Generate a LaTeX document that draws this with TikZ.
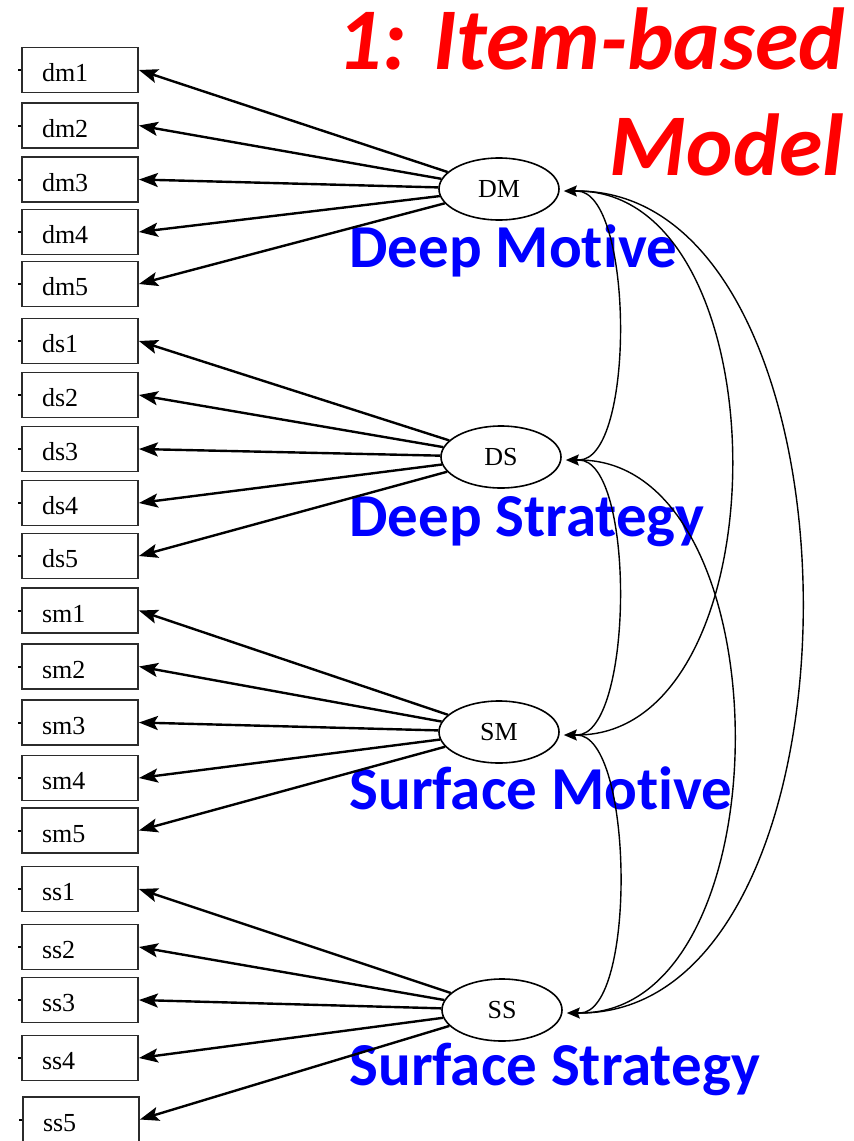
\documentclass[tikz,border=0pt]{standalone}
\usepackage{fontspec}
\setmainfont{Liberation Serif}
\newfontfamily\calibriFont[Ligatures=NoCommon]{Carlito}
\usetikzlibrary{arrows.meta, shapes.geometric}
\definecolor{titleRed}{HTML}{FF0000}
\definecolor{labelBlue}{HTML}{0000FF}
\definecolor{boxEdge}{HTML}{2B2B2B}
\tikzset{
  boxItem/.style={rectangle, draw=boxEdge, line width=0.9pt, text width=38pt,
                  inner xsep=10pt, minimum height=22.5pt, text height=11.5pt,
                  text depth=0pt, align=left, font=\fontsize{13}{15}\selectfont,
                  append after command={(\tikzlastnode.west) edge[line width=1pt] ++(-1.5pt,0)}},
  ellFactor/.style={ellipse, draw=black, line width=0.8pt, minimum width=60pt,
                    minimum height=31pt, inner sep=0pt, font=\fontsize{13}{15}\selectfont},
  arrowLoad/.style={-{Stealth[length=9.5pt, width=7pt, inset=2pt]}, line width=1.2pt},
  arrowCov/.style={-{Stealth[length=6.5pt, width=5.5pt, inset=1pt]}, line width=0.7pt},
  lineCov/.style={line width=0.7pt},
  textFactor/.style={text=labelBlue, font=\calibriFont\bfseries\fontsize{30.5}{36}\selectfont,
                     inner sep=0pt, anchor=base west},
  textTitle/.style={text=titleRed, font=\calibriFont\bfseries\itshape\fontsize{44}{53}\selectfont,
                    inner sep=0pt, anchor=base east},
}

\begin{document}
\begin{tikzpicture}[x=0.5pt, y=-0.5pt]
    \useasboundingbox (0,0) rectangle (853,1141);

    % observed items
    \node[boxItem] (dm1) at (80,70) {dm1};
    \node[boxItem] (dm2) at (80,125.5) {dm2};
    \node[boxItem] (dm3) at (80,179.5) {dm3};
    \node[boxItem] (dm4) at (80,232) {dm4};
    \node[boxItem] (dm5) at (80,284) {dm5};
    \node[boxItem] (ds1) at (80,341) {ds1};
    \node[boxItem] (ds2) at (80,395) {ds2};
    \node[boxItem] (ds3) at (80,449) {ds3};
    \node[boxItem] (ds4) at (80,503) {ds4};
    \node[boxItem] (ds5) at (80,556) {ds5};
    \node[boxItem] (sm1) at (80,610.5) {sm1};
    \node[boxItem] (sm2) at (80,666.5) {sm2};
    \node[boxItem] (sm3) at (80,722.5) {sm3};
    \node[boxItem] (sm4) at (80,778) {sm4};
    \node[boxItem] (sm5) at (80,830.5) {sm5};
    \node[boxItem] (ss1) at (80,889) {ss1};
    \node[boxItem] (ss2) at (80,947) {ss2};
    \node[boxItem] (ss3) at (80,1000) {ss3};
    \node[boxItem] (ss4) at (80,1058) {ss4};
    \node[boxItem] (ss5) at (81,1119.5) {ss5};

    % latent factors
    \node[ellFactor] (DM) at (499,189) {DM};
    \node[ellFactor] (DS) at (501,457) {DS};
    \node[ellFactor] (SM) at (499,732) {SM};
    \node[ellFactor] (SS) at (502,1010) {SS};

    \node[textFactor] (lblDM) at (349,267) {Deep Motive};
    \node[textFactor] (lblDS) at (349,536) {Deep Strategy};
    \node[textFactor] (lblSM) at (349,809) {Surface Motive};
    \node[textFactor] (lblSS) at (349,1085) {Surface Strategy};

    \node[textTitle] (title1) at (845,69) {1: Item-based};
    \node[textTitle] (title2) at (845,175) {Model};

    % loadings
    \draw[arrowLoad] (DM)--(dm1.east); \draw[arrowLoad] (DM)--(dm2.east);
    \draw[arrowLoad] (DM)--(dm3.east); \draw[arrowLoad] (DM)--(dm4.east);
    \draw[arrowLoad] (DM)--(dm5.east);
    \draw[arrowLoad] (DS)--(ds1.east); \draw[arrowLoad] (DS)--(ds2.east);
    \draw[arrowLoad] (DS)--(ds3.east); \draw[arrowLoad] (DS)--(ds4.east);
    \draw[arrowLoad] (DS)--(ds5.east);
    \draw[arrowLoad] (SM)--(sm1.east); \draw[arrowLoad] (SM)--(sm2.east);
    \draw[arrowLoad] (SM)--(sm3.east); \draw[arrowLoad] (SM)--(sm4.east);
    \draw[arrowLoad] (SM)--(sm5.east);
    \draw[arrowLoad] (SS)--(ss1.east); \draw[arrowLoad] (SS)--(ss2.east);
    \draw[arrowLoad] (SS)--(ss3.east); \draw[arrowLoad] (SS)--(ss4.east);
    \draw[arrowLoad] (SS)--(ss5.east);

    % covariances: tip and base of each head
    \coordinate (DMa) at ([xshift=2pt, yshift=-1pt]DM.east);
    \coordinate (DMb) at ([xshift=8.5pt, yshift=-1pt]DM.east);
    \coordinate (DSa) at ([xshift=2pt, yshift=-1.5pt]DS.east);
    \coordinate (DSb) at ([xshift=8.5pt, yshift=-1.5pt]DS.east);
    \coordinate (SMa) at ([xshift=2pt, yshift=-1.5pt]SM.east);
    \coordinate (SMb) at ([xshift=8.5pt, yshift=-1.5pt]SM.east);
    \coordinate (SSa) at ([xshift=2pt, yshift=-1.5pt]SS.east);
    \coordinate (SSb) at ([xshift=8.5pt, yshift=-1.5pt]SS.east);
    \draw[arrowCov] (DMb)--(DMa); \draw[arrowCov] (DSb)--(DSa);
    \draw[arrowCov] (SMb)--(SMa); \draw[arrowCov] (SSb)--(SSa);

    \draw[lineCov] (DMb) .. controls +(57,0) and +(57,0) .. (DSb);
    \draw[lineCov] (DSb) .. controls +(57,0) and +(57,0) .. (SMb);
    \draw[lineCov] (SMb) .. controls +(57,0) and +(57,0) .. (SSb);
    \draw[lineCov] (DMb) .. controls +(208,0) and +(208,0) .. (SMb);
    \draw[lineCov] (DSb) .. controls +(208,0) and +(208,0) .. (SSb);
    \draw[lineCov] (DMb) .. controls +(300,0) and +(300,0) .. (SSb);
\end{tikzpicture}
\end{document}
